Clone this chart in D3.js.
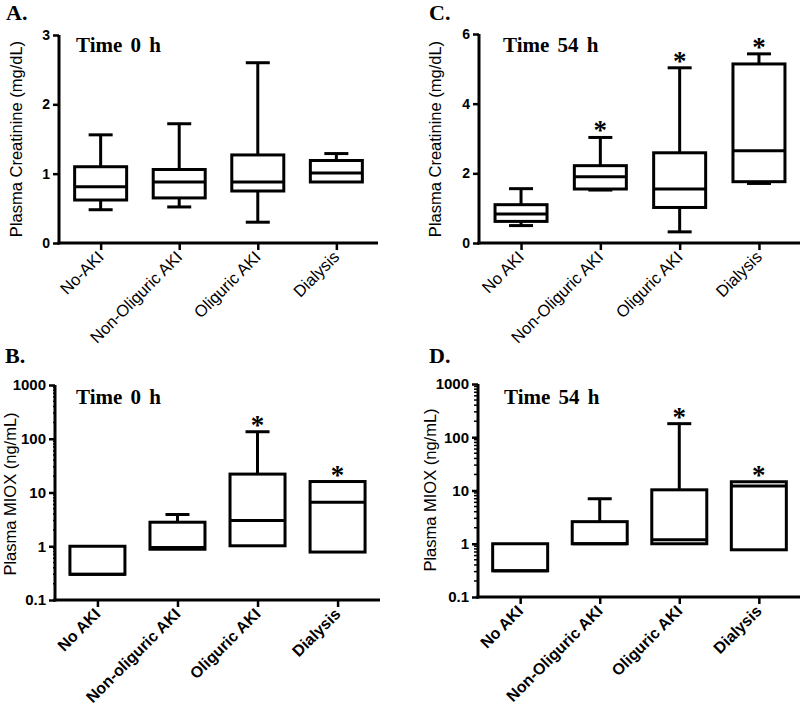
<!DOCTYPE html>
<html><head><meta charset="utf-8">
<script src="https://cdn.jsdelivr.net/npm/d3@7"></script>
<style>
body{margin:0;background:#fff;}
svg{display:block;}
</style></head>
<body>
<svg id="chart" width="800" height="711"></svg>
<script>
// ---------- DATA ----------
const categoriesA = ["No-AKI", "Non-Oliguric AKI", "Oliguric AKI", "Dialysis"];
const minA    = [0.48, 0.52, 0.30, 0.88];
const q1A     = [0.62, 0.65, 0.75, 0.88];
const medianA = [0.81, 0.88, 0.88, 1.01];
const q3A     = [1.10, 1.06, 1.27, 1.19];
const maxA    = [1.56, 1.72, 2.60, 1.29];
const sigA    = [false, false, false, false];
const ticksA  = [0, 1, 2, 3];

const categoriesC = ["No AKI", "Non-Oliguric AKI", "Oliguric AKI", "Dialysis"];
const minC    = [0.50, 1.52, 0.32, 1.71];
const q1C     = [0.62, 1.55, 1.02, 1.76];
const medianC = [0.83, 1.90, 1.55, 2.65];
const q3C     = [1.10, 2.22, 2.59, 5.14];
const maxC    = [1.56, 3.03, 5.03, 5.43];
const sigC    = [false, true, true, true];
const ticksC  = [0, 2, 4, 6];

const categoriesB = ["No AKI", "Non-oliguric AKI", "Oliguric AKI", "Dialysis"];
const minB    = [0.30, 0.88, 1.02, 0.78];
const q1B     = [0.30, 0.88, 1.02, 0.78];
const medianB = [0.30, 0.95, 3.0, 6.6];
const q3B     = [1.0, 2.8, 22, 16];
const maxB    = [1.0, 3.9, 135, 16];
const sigB    = [false, false, true, true];

const categoriesD = ["No AKI", "Non-Oliguric AKI", "Oliguric AKI", "Dialysis"];
const minD    = [0.31, 1.0, 1.0, 0.77];
const q1D     = [0.31, 1.0, 1.0, 0.77];
const medianD = [0.31, 1.0, 1.19, 12.2];
const q3D     = [1.0, 2.6, 10.3, 14.6];
const maxD    = [1.0, 7.0, 180, 14.6];
const sigD    = [false, false, true, true];

const logTicks = [0.1, 1, 10, 100, 1000];
const logTickLabels = ["0.1", "1", "10", "100", "1000"];

const yTitleCreat = "Plasma Creatinine (mg/dL)";
const yTitleMiox = "Plasma MIOX (ng/mL)";

// ---------- DRAW ----------
const svg = d3.select("#chart");
const SANS = "'Liberation Sans', Arial, sans-serif";
const SERIF = "'Liberation Serif', 'Times New Roman', serif";

function panel(cfg) {
  const g = svg.append("g");
  const x = d3.scalePoint().domain(cfg.cats).range([cfg.x0, cfg.x1]).padding(0.53);
  const y = cfg.log
    ? d3.scaleLog().domain([0.1, 1000]).range([cfg.yBot, cfg.yTop])
    : d3.scaleLinear().domain([0, cfg.ymax]).range([cfg.yBot, cfg.yTop]);

  // y axis
  const yAxis = d3.axisLeft(y).tickSize(6).tickPadding(3);
  if (cfg.log) yAxis.tickValues(logTicks).tickFormat((d, i) => logTickLabels[i]);
  else yAxis.tickValues(cfg.ticks).tickFormat(d3.format("d"));
  const ya = g.append("g").attr("transform", `translate(${cfg.x0},0)`).call(yAxis);
  ya.select(".domain").attr("stroke-width", 3).attr("d", `M0,${cfg.yBot + 1.5}V${cfg.yTop}`);
  ya.selectAll(".tick line").attr("stroke-width", 2.5);
  ya.selectAll(".tick text").attr("font-family", SANS).attr("font-weight", "bold")
    .attr("font-size", cfg.log ? 15 : 14).attr("fill", "#000");

  if (cfg.log && cfg.minorLen > 0) {
    const minors = [];
    [0.1, 1, 10, 100].forEach(dec => { for (let k = 2; k <= 9; k++) minors.push(dec * k); });
    g.append("g").selectAll("line").data(minors).join("line")
      .attr("x1", cfg.x0 - cfg.minorLen).attr("x2", cfg.x0)
      .attr("y1", d => y(d)).attr("y2", d => y(d))
      .attr("stroke", "#000").attr("stroke-width", 1.5);
  }

  // x axis
  const xAxis = d3.axisBottom(x).tickSize(7).tickFormat("");
  const xa = g.append("g").attr("transform", `translate(0,${cfg.yBot})`).call(xAxis);
  xa.select(".domain").attr("stroke-width", 3).attr("d", `M${cfg.x0 - 1.5},0H${cfg.x1}`);
  xa.selectAll(".tick line").attr("stroke-width", 2.5);

  // category labels
  g.append("g").selectAll("text").data(cfg.cats).join("text")
    .attr("transform", d => `translate(${x(d) + 4},${cfg.yBot + 15}) rotate(-45)`)
    .attr("text-anchor", "end")
    .attr("font-family", SANS)
    .attr("font-weight", cfg.log ? "bold" : "normal")
    .attr("font-size", cfg.log ? 16 : 16.5)
    .text(d => d);

  // boxes
  const bw = cfg.boxW, cw = 24;
  cfg.cats.forEach((c, i) => {
    const cx = x(c);
    const bg = g.append("g").attr("stroke", "#000").attr("stroke-width", 3).attr("fill", "none");
    if (cfg.max[i] > cfg.q3[i]) {
      bg.append("line").attr("x1", cx).attr("x2", cx).attr("y1", y(cfg.q3[i])).attr("y2", y(cfg.max[i]));
      bg.append("line").attr("x1", cx - cw / 2).attr("x2", cx + cw / 2).attr("y1", y(cfg.max[i])).attr("y2", y(cfg.max[i]));
    }
    if (cfg.min[i] < cfg.q1[i]) {
      bg.append("line").attr("x1", cx).attr("x2", cx).attr("y1", y(cfg.q1[i])).attr("y2", y(cfg.min[i]));
      bg.append("line").attr("x1", cx - cw / 2).attr("x2", cx + cw / 2).attr("y1", y(cfg.min[i])).attr("y2", y(cfg.min[i]));
    }
    bg.append("rect").attr("x", cx - bw / 2).attr("width", bw)
      .attr("y", y(cfg.q3[i])).attr("height", y(cfg.q1[i]) - y(cfg.q3[i]));
    bg.append("line").attr("x1", cx - bw / 2).attr("x2", cx + bw / 2)
      .attr("y1", y(cfg.median[i])).attr("y2", y(cfg.median[i]));
    if (cfg.sig[i]) {
      g.append("text").attr("x", cx).attr("y", y(cfg.max[i]) + 2)
        .attr("text-anchor", "middle").attr("font-family", SERIF).attr("font-weight", "bold")
        .attr("font-size", 27).text("*");
    }
  });

  // time label
  g.append("text").attr("x", cfg.tx).attr("y", cfg.ty)
    .attr("font-family", SERIF).attr("font-weight", "bold").attr("font-size", 21)
    .attr("word-spacing", 3).text(cfg.timeLabel);

  // y title
  g.append("text").attr("transform", `translate(${cfg.ytx},${cfg.yty}) rotate(-90)`)
    .attr("text-anchor", "middle").attr("font-family", SANS).attr("font-size", 16.5)
    .text(cfg.yTitle);

  // panel letter
  g.append("text").attr("x", cfg.lx).attr("y", cfg.ly)
    .attr("font-family", SERIF).attr("font-weight", "bold").attr("font-size", 22)
    .text(cfg.letter);
}

panel({cats: categoriesA, min: minA, q1: q1A, median: medianA, q3: q3A, max: maxA, sig: sigA,
  ticks: ticksA, ymax: 3, log: false, x0: 59, x1: 378, yTop: 35, yBot: 243, boxW: 52,
  tx: 76, ty: 52, timeLabel: "Time 0 h", ytx: 22, yty: 139, yTitle: yTitleCreat, lx: 6, ly: 20, letter: "A."});
panel({cats: categoriesC, min: minC, q1: q1C, median: medianC, q3: q3C, max: maxC, sig: sigC,
  ticks: ticksC, ymax: 6, log: false, x0: 479, x1: 801, yTop: 34, yBot: 243, boxW: 52,
  tx: 503, ty: 52, timeLabel: "Time 54 h", ytx: 441, yty: 139, yTitle: yTitleCreat, lx: 429, ly: 20, letter: "C."});
panel({cats: categoriesB, min: minB, q1: q1B, median: medianB, q3: q3B, max: maxB, sig: sigB,
  log: true, minorLen: 2, x0: 55, x1: 380, yTop: 385, yBot: 600, boxW: 55,
  tx: 76, ty: 404, timeLabel: "Time 0 h", ytx: 16, yty: 494, yTitle: yTitleMiox, lx: 5, ly: 363, letter: "B."});
panel({cats: categoriesD, min: minD, q1: q1D, median: medianD, q3: q3D, max: maxD, sig: sigD,
  log: true, minorLen: 4, x0: 478, x1: 801, yTop: 384, yBot: 597, boxW: 55,
  tx: 504, ty: 404, timeLabel: "Time 54 h", ytx: 436, yty: 490, yTitle: yTitleMiox, lx: 429, ly: 363, letter: "D."});
</script>
</body></html>
